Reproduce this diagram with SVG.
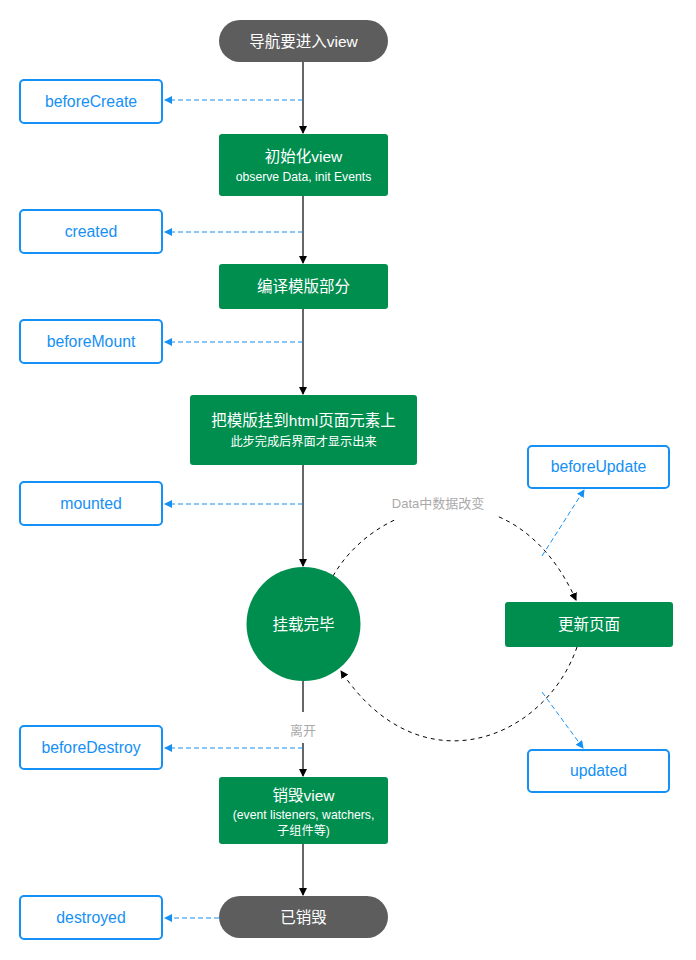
<svg xmlns="http://www.w3.org/2000/svg" width="696" height="960" viewBox="0 0 696 960">
<style>
text{font-family:"Liberation Sans","Noto Sans CJK SC",sans-serif;text-anchor:middle}
.g{fill:#008e4f}
.p{fill:#5d5d5d}
.h{fill:#fff;stroke:#1590f5;stroke-width:2}
.w{fill:#fff;font-size:15.5px}
.s{fill:#fff;font-size:12.2px}
.b{fill:#1590f5;font-size:15.8px}
.l{fill:#aaa;font-size:13px}
.k{stroke:#000;stroke-width:1.2;fill:none}
.kd{stroke:#000;stroke-width:1;fill:none;stroke-dasharray:4 4}
.bd{stroke:#1590f5;stroke-width:1;fill:none;stroke-dasharray:5 3}
</style>
<defs>
<marker id="ak" markerWidth="8" markerHeight="8" refX="7" refY="4" orient="auto" markerUnits="userSpaceOnUse"><path d="M0,0 L8,4 L0,8 Z" fill="#000"/></marker>
<marker id="ab" markerWidth="8" markerHeight="8" refX="7" refY="4" orient="auto" markerUnits="userSpaceOnUse"><path d="M0,0 L8,4 L0,8 Z" fill="#1590f5"/></marker>
</defs>
<g id="connectors">
<path class="k" d="M303,62 V133" marker-end="url(#ak)"/>
<path class="k" d="M303,196 V263" marker-end="url(#ak)"/>
<path class="k" d="M303,309 V394" marker-end="url(#ak)"/>
<path class="k" d="M303,465 V566" marker-end="url(#ak)"/>
<path class="k" d="M303,681 V712"/>
<path class="k" d="M303,743 V776" marker-end="url(#ak)"/>
<path class="k" d="M303,844 V895" marker-end="url(#ak)"/>
<path class="bd" d="M303,100 H165" marker-end="url(#ab)"/>
<path class="bd" d="M303,232 H165" marker-end="url(#ab)"/>
<path class="bd" d="M303,342 H165" marker-end="url(#ab)"/>
<path class="bd" d="M303,504 H165" marker-end="url(#ab)"/>
<path class="bd" d="M303,748 H165" marker-end="url(#ab)"/>
<path class="bd" d="M219,918 H165" marker-end="url(#ab)"/>
<path class="kd" d="M333,576 C380,495 515,465 576,600" marker-end="url(#ak)"/>
<path class="kd" d="M577,647 C545,740 420,790 341,671" marker-end="url(#ak)"/>
<path class="bd" d="M542,556 L584,490" marker-end="url(#ab)"/>
<path class="bd" d="M542,692 L583,748" marker-end="url(#ab)"/>
<rect x="390" y="490" width="107" height="30" fill="#fff"/>
<text class="l" x="438" y="508">Data中数据改变</text>
<rect x="285" y="720" width="36" height="20" fill="#fff"/>
<text class="l" x="303" y="735">离开</text>
</g>
<g id="n-start"><rect class="p" x="219" y="20" width="169" height="42" rx="21"/><text class="w" x="303.5" y="46.5">导航要进入view</text></g>
<g id="n-beforeCreate"><rect class="h" x="20" y="80" width="142" height="43" rx="4"/><text class="b" x="91" y="107">beforeCreate</text></g>
<g id="n-init"><rect class="g" x="219" y="134" width="169" height="62" rx="3"/><text class="w" x="303.5" y="162">初始化view</text><text class="s" x="303.5" y="181">observe Data, init Events</text></g>
<g id="n-created"><rect class="h" x="20" y="210" width="142" height="43" rx="4"/><text class="b" x="91" y="237">created</text></g>
<g id="n-compile"><rect class="g" x="219" y="264" width="169" height="45" rx="3"/><text class="w" x="303.5" y="292">编译模版部分</text></g>
<g id="n-beforeMount"><rect class="h" x="20" y="320" width="142" height="43" rx="4"/><text class="b" x="91" y="347">beforeMount</text></g>
<g id="n-mount"><rect class="g" x="190" y="395" width="227" height="70" rx="3"/><text class="w" x="303.5" y="426">把模版挂到html页面元素上</text><text class="s" x="303.5" y="446">此步完成后界面才显示出来</text></g>
<g id="n-mounted"><rect class="h" x="20" y="482" width="142" height="43" rx="4"/><text class="b" x="91" y="509">mounted</text></g>
<g id="n-done"><circle class="g" cx="303.5" cy="624" r="57"/><text class="w" x="303.5" y="630">挂载完毕</text></g>
<g id="n-beforeUpdate"><rect class="h" x="528" y="446" width="141" height="42" rx="4"/><text class="b" x="598.5" y="472">beforeUpdate</text></g>
<g id="n-update"><rect class="g" x="505" y="602" width="168" height="45" rx="3"/><text class="w" x="589" y="630">更新页面</text></g>
<g id="n-updated"><rect class="h" x="528" y="750" width="141" height="42" rx="4"/><text class="b" x="598.5" y="776">updated</text></g>
<g id="n-beforeDestroy"><rect class="h" x="20" y="726" width="142" height="43" rx="4"/><text class="b" x="91" y="753">beforeDestroy</text></g>
<g id="n-destroy"><rect class="g" x="219" y="777" width="169" height="67" rx="3"/><text class="w" x="303.5" y="801">销毁view</text><text class="s" x="303.5" y="819">(event listeners, watchers,</text><text class="s" x="303.5" y="835">子组件等)</text></g>
<g id="n-destroyedNode"><rect class="p" x="219" y="896" width="169" height="42" rx="21"/><text class="w" x="303.5" y="923">已销毁</text></g>
<g id="n-destroyed"><rect class="h" x="20" y="896" width="142" height="43" rx="4"/><text class="b" x="91" y="923">destroyed</text></g>
</svg>
